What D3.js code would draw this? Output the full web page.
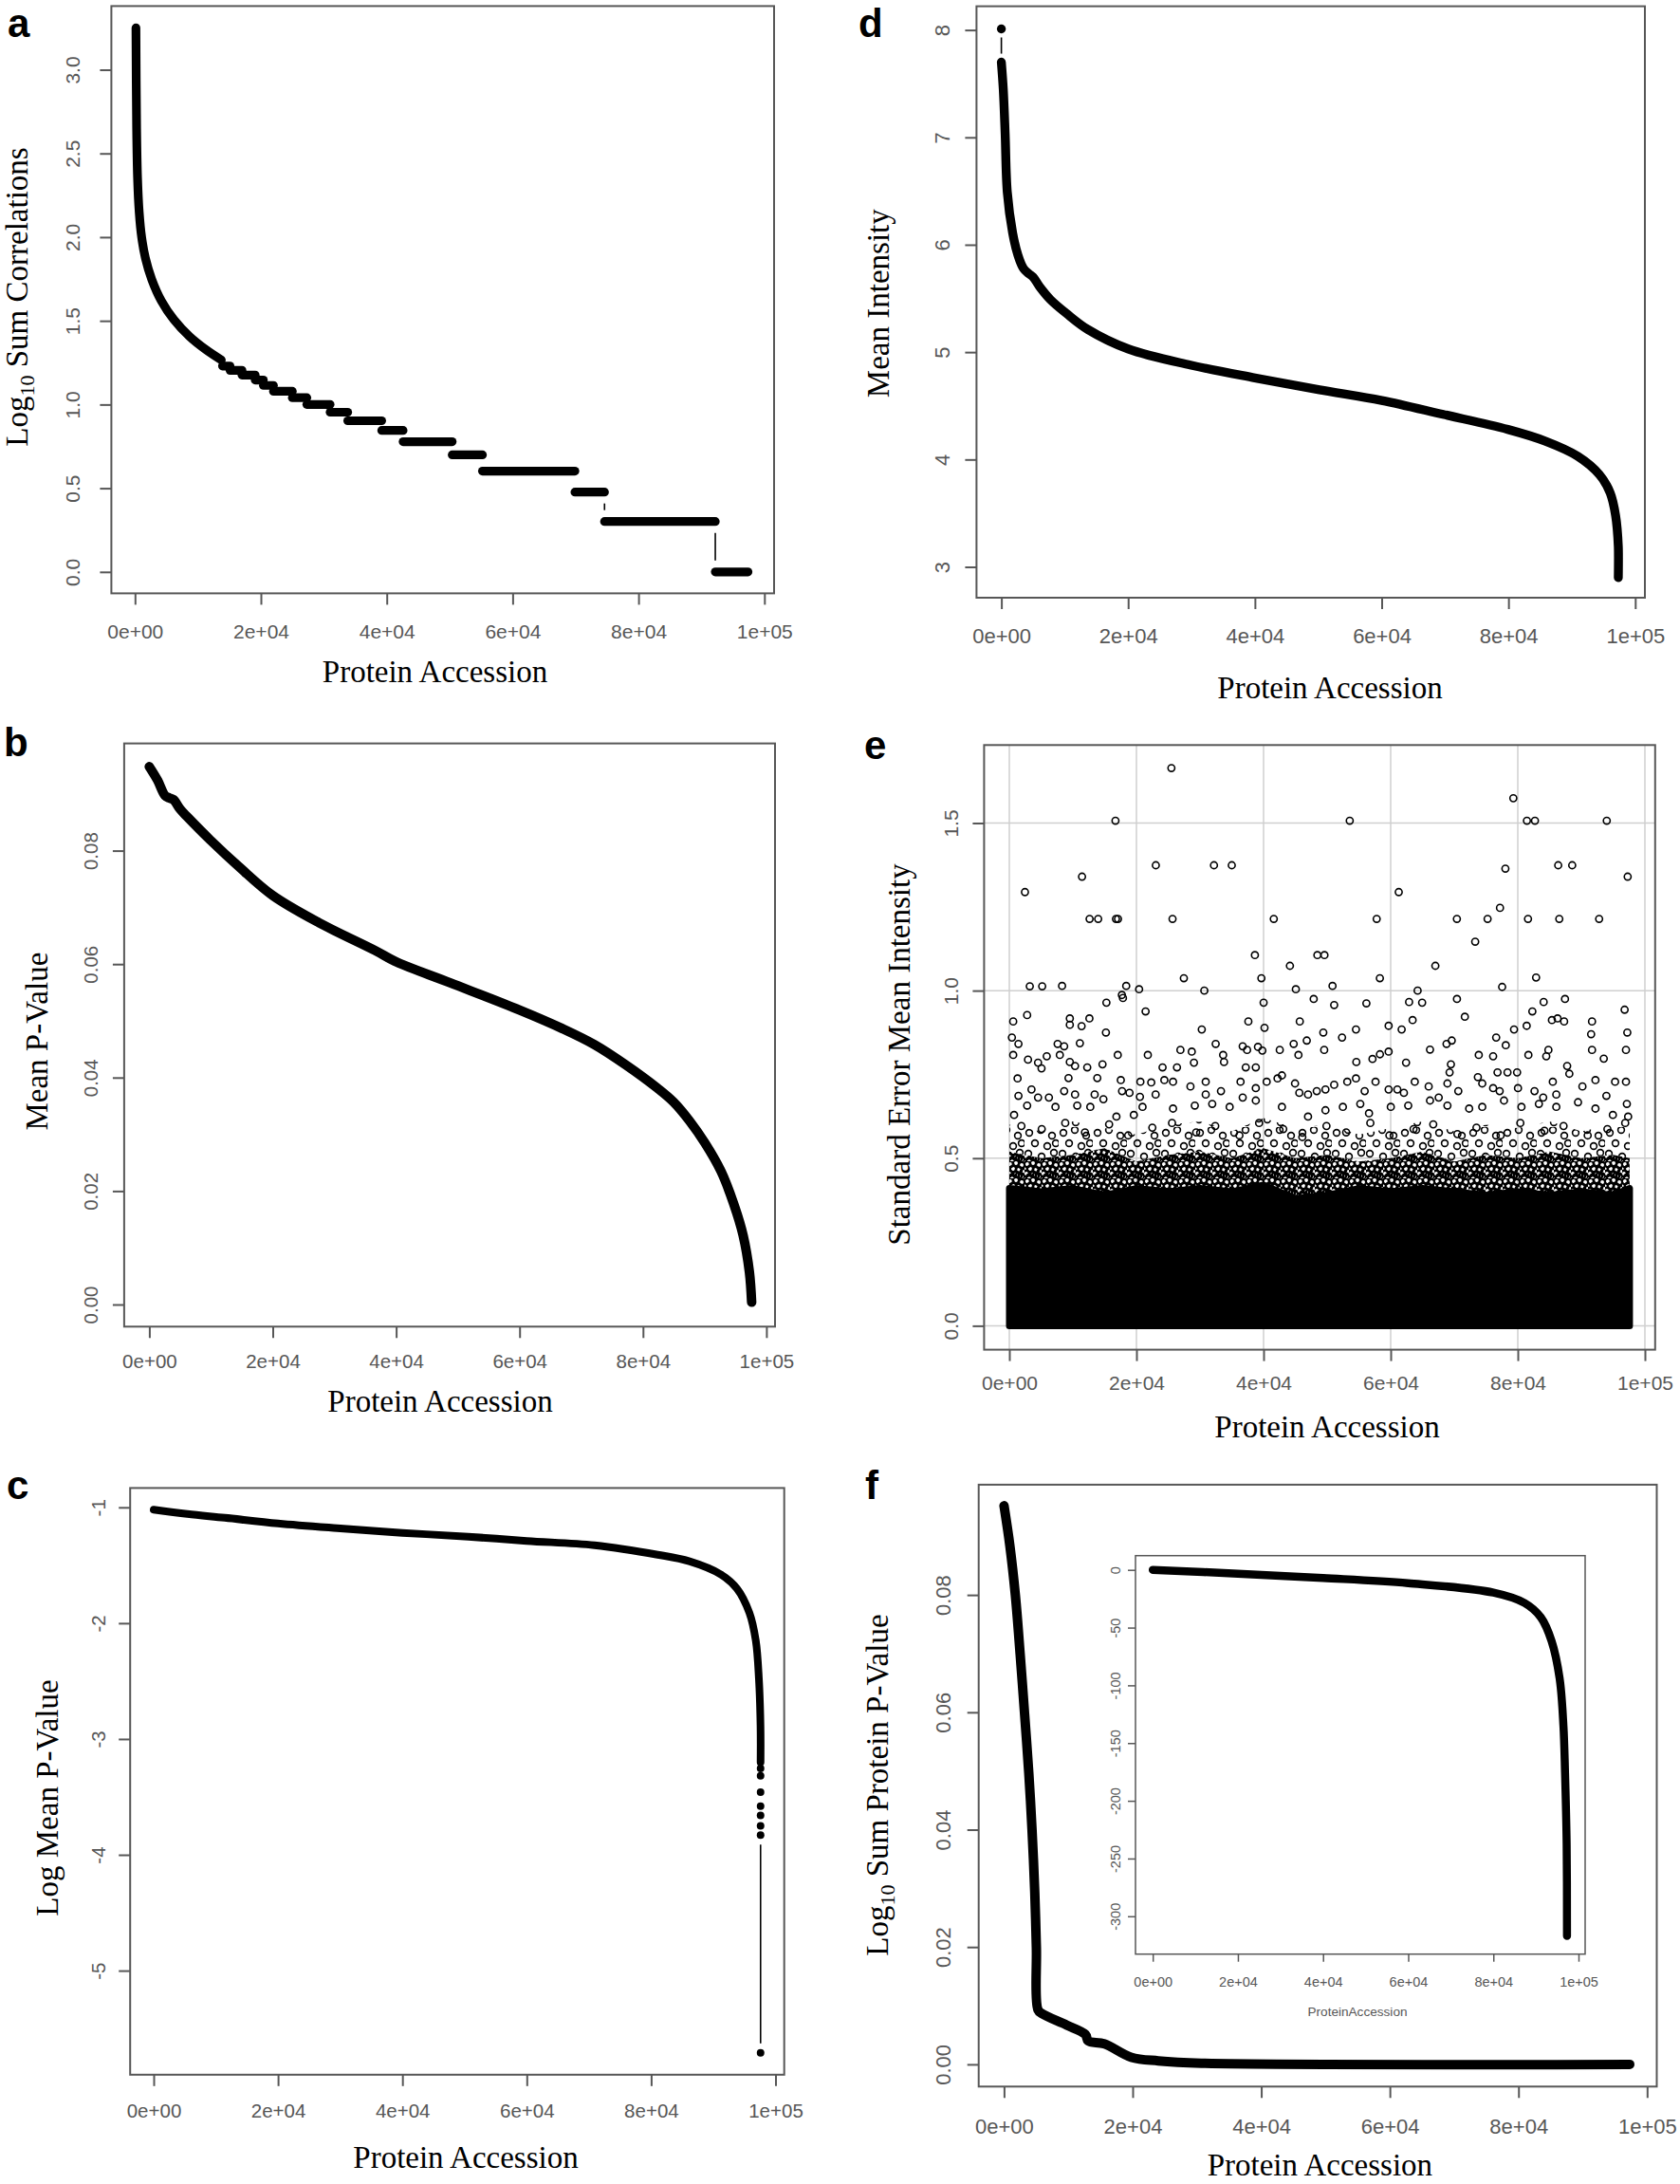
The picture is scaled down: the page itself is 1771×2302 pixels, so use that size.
<!DOCTYPE html>
<html><head><meta charset="utf-8">
<script src="https://cdn.jsdelivr.net/npm/d3@7"></script>
<style>body{margin:0;background:#fff}svg{display:block}</style>
</head><body>
<svg id="fig" width="1771" height="2302"></svg>
<script>
// ---------------- DATA ----------------
const xTickValues = [0, 20000, 40000, 60000, 80000, 100000];
const xTickLabels = ["0e+00", "2e+04", "4e+04", "6e+04", "8e+04", "1e+05"];

// a: Log10 Sum Correlations
const aTicks = [0, 0.5, 1.0, 1.5, 2.0, 2.5, 3.0];
const aTickLabels = ["0.0", "0.5", "1.0", "1.5", "2.0", "2.5", "3.0"];
const aCurveX = [150, 256, 407, 663, 1055, 1658, 2667, 4175, 6180, 8700, 11210, 13715];
const aCurveY = [3.25, 2.66, 2.354, 2.152, 2.0, 1.874, 1.747, 1.62, 1.507, 1.405, 1.329, 1.266];
const aStepY = [1.230, 1.204, 1.176, 1.146, 1.114, 1.079, 1.041, 1.000, 0.954, 0.903, 0.845, 0.778, 0.699, 0.602, 0.477, 0.301, 0.000];
const aStepStart = [13900, 15100, 17000, 19100, 20400, 22000, 25000, 27300, 31000, 33800, 39200, 42600, 50400, 55200, 69900, 74600, 92200];
const aStepEnd = [15100, 17000, 19100, 20400, 22000, 25000, 27300, 31000, 33800, 39200, 42600, 50400, 55200, 69900, 74600, 92200, 97400];

// b: Mean P-Value
const bTicks = [0, 0.02, 0.04, 0.06, 0.08];
const bTickLabels = ["0.00", "0.02", "0.04", "0.06", "0.08"];
const bX = [0, 1340, 2550, 3200, 3900, 5000, 6200, 9850, 14700, 20000, 27500, 36600, 40000, 48750, 60000, 67000, 72150, 77260, 82380, 84950, 87520, 90080, 92640, 94690, 96230, 97250, 97610];
const bY = [0.0948, 0.0924, 0.0897, 0.0893, 0.0890, 0.0873, 0.0859, 0.0819, 0.077, 0.0721, 0.0673, 0.0624, 0.0604, 0.0567, 0.0519, 0.0486, 0.0458, 0.0422, 0.0381, 0.0357, 0.0324, 0.0284, 0.0235, 0.0178, 0.0122, 0.0057, 0.0004];

// c: Log Mean P-Value
const cTicks = [-1, -2, -3, -4, -5];
const cTickLabels = ["-1", "-2", "-3", "-4", "-5"];
const cX = [0, 5420, 11450, 20000, 29500, 40000, 50600, 60000, 70900, 81050, 86150, 91230, 93780, 95800, 96830, 97330, 97590, 97600];
const cY = [-1.02, -1.057, -1.09, -1.139, -1.18, -1.22, -1.253, -1.29, -1.327, -1.409, -1.466, -1.58, -1.70, -1.91, -2.15, -2.48, -2.89, -3.2];
const cTailX = [97600, 97600, 97600, 97600, 97600, 97600, 97600];
const cTailY = [-3.255, -3.317, -3.46, -3.58, -3.66, -3.75, -3.83];
const cLastX = [97600];
const cLastY = [-5.71];

// d: Mean Intensity
const dTicks = [3, 4, 5, 6, 7, 8];
const dTickLabels = ["3", "4", "5", "6", "7", "8"];
const dFirstX = [0];
const dFirstY = [8.01];
const dX = [0, 300, 600, 935, 1780, 2630, 3480, 4330, 5000, 6030, 7730, 10280, 13670, 20000, 29800, 40000, 50190, 60000, 69700, 79900, 85860, 90950, 94350, 96050, 96900, 97330, 97330];
const dY = [7.70, 7.45, 7.03, 6.49, 6.11, 5.90, 5.78, 5.73, 5.70, 5.61, 5.49, 5.36, 5.21, 5.03, 4.88, 4.76, 4.65, 4.55, 4.42, 4.28, 4.17, 4.03, 3.86, 3.69, 3.48, 3.19, 2.90];

// e: Standard Error Mean Intensity
const eTicks = [0, 0.5, 1.0, 1.5];
const eTickLabels = ["0.0", "0.5", "1.0", "1.5"];
const eBandX = [0, 5000, 10000, 15000, 20000, 25000, 30000, 35000, 40000, 45000, 50000, 55000, 60000, 65000, 70000, 75000, 80000, 85000, 90000, 95000, 97600];
const eSolidTop = [0.41, 0.40, 0.41, 0.39, 0.41, 0.40, 0.41, 0.40, 0.42, 0.38, 0.39, 0.41, 0.40, 0.41, 0.40, 0.39, 0.40, 0.39, 0.40, 0.39, 0.41];
const eSpeckTop = [0.52, 0.50, 0.51, 0.53, 0.49, 0.51, 0.52, 0.50, 0.53, 0.50, 0.51, 0.49, 0.50, 0.52, 0.49, 0.51, 0.50, 0.52, 0.50, 0.51, 0.50];
const eSparseTop = [0.60, 0.58, 0.61, 0.59, 0.57, 0.60, 0.61, 0.58, 0.62, 0.59, 0.60, 0.57, 0.59, 0.61, 0.58, 0.60, 0.59, 0.61, 0.58, 0.60, 0.59];
const eOutX = [
  25500,79300,16700,53560,81440,82700,94000,23050,32200,35000,78050,86360,88560,97290,11440,2460,61270,77200,12630,13980,16780,17100,25680,41610,57800,70420,75250,81610,86530,92800,73300,38640,48470,49580,44150,67030,27460,39660,58300,82880,3220,5170,8300,18390,20420,30680,45080,50850,64240,77540,17710,
  612,2805,9520,9520,11370,12600,15275,15200,17880,21440,30280,37610,40150,40010,45700,47890,49400,51110,54540,56180,59680,61730,62900,63450,64950,70430,71670,79410,81400,82290,84070,85370,86260,87290,87430,91680,91540,96810,97230,
  406,1434,612,2942,4518,5066,5888,7601,7944,8630,9520,10340,11100,12260,14660,17060,21790,24110,26380,26920,28705,29050,32470,33640,33780,36720,37410,39120,39810,37200,38780,42550,44740,45490,46800,49540,52350,54600,57140,58310,59680,62420,66190,68790,69610,73860,76120,76600,78110,81670,84480,84820,87770,91680,93530,97020,79890,78380,76810,69480,
  1297,3490,1434,4518,6231,9314,8630,10340,13840,13425,14800,17540,17740,18910,20620,20550,22330,23020,24390,25760,28500,30900,30900,33300,36380,36720,38780,40490,42200,42890,44950,45630,47000,48370,49740,51110,53170,54540,55910,57620,59680,61050,62080,63790,65980,67560,69270,68930,70640,73720,74410,76120,77150,77830,80030,82630,84000,85510,86060,88110,90170,92220,93940,95310,97020,97160,97360,
  749,2805,7258,10685,12740,16850,19590,20960,25760,29185,31925,34665,38780,42890,47000,49740,52480,55220,56590,60020,62760,66190,68930,72350,74410,80580,83320,86060,89480,92220,94960,
  1900,5100,8800,11900,15700,18700,22500,25600,29400,32400,36200,39300,43100,46100,49900,53000,56800,59800,63600,66700,70500,73500,77300,80400,84200,87200,91000,94100,96900
];
const eOutY = [
  1.664,1.574,1.507,1.507,1.507,1.507,1.507,1.374,1.374,1.374,1.364,1.374,1.374,1.34,1.34,1.294,1.294,1.247,1.214,1.214,1.214,1.214,1.214,1.214,1.214,1.214,1.214,1.214,1.214,1.214,1.146,1.106,1.106,1.106,1.074,1.074,1.037,1.037,1.037,1.039,1.013,1.013,1.014,1.014,1.004,1.0,1.004,1.014,1.0,1.011,0.987,
  0.908,0.927,0.917,0.898,0.894,0.917,0.964,0.875,0.978,0.938,0.884,0.908,0.889,0.964,0.908,0.975,0.875,0.957,0.884,0.962,0.895,0.884,0.966,0.912,0.964,0.975,0.922,0.884,0.895,0.938,0.966,0.912,0.917,0.908,0.975,0.908,0.870,0.943,0.875,
  0.860,0.841,0.808,0.794,0.785,0.768,0.804,0.841,0.808,0.834,0.787,0.775,0.843,0.771,0.780,0.808,0.808,0.771,0.771,0.823,0.818,0.785,0.841,0.808,0.787,0.834,0.823,0.832,0.821,0.771,0.771,0.823,0.841,0.808,0.851,0.823,0.860,0.787,0.796,0.810,0.818,0.785,0.824,0.841,0.851,0.808,0.804,0.860,0.837,0.808,0.804,0.823,0.775,0.823,0.797,0.823,0.756,0.756,0.756,0.780,
  0.738,0.705,0.686,0.681,0.681,0.739,0.700,0.690,0.739,0.690,0.676,0.733,0.700,0.695,0.728,0.683,0.726,0.690,0.733,0.728,0.714,0.728,0.690,0.700,0.728,0.681,0.709,0.728,0.738,0.747,0.723,0.695,0.690,0.700,0.705,0.719,0.728,0.738,0.700,0.728,0.705,0.705,0.695,0.728,0.714,0.681,0.756,0.723,0.700,0.742,0.723,0.709,0.700,0.672,0.709,0.700,0.681,0.728,0.690,0.752,0.714,0.733,0.686,0.728,0.728,0.662,0.624,
  0.629,0.657,0.653,0.657,0.653,0.624,0.629,0.653,0.648,0.657,0.662,0.653,0.672,0.653,0.624,0.643,0.653,0.662,0.634,0.653,0.657,0.672,0.657,0.648,0.653,0.653,0.662,0.653,0.667,0.648,0.629,
  0.596,0.587,0.605,0.577,0.601,0.568,0.591,0.605,0.577,0.596,0.568,0.605,0.587,0.563,0.596,0.577,0.605,0.568,0.587,0.601,0.572,0.591,0.568,0.605,0.582,0.596,0.568,0.587,0.605
];

// f: Log10 Sum Protein P-Value (+ inset)
const fTicks = [0, 0.02, 0.04, 0.06, 0.08];
const fTickLabels = ["0.00", "0.02", "0.04", "0.06", "0.08"];
const fX = [0, 922, 1761, 2516, 3187, 3857, 4360, 4780, 5031, 5283, 5954, 9727, 12662, 13082, 15598, 19790, 23983, 30692, 97300];
const fY = [0.0952, 0.0883, 0.08, 0.0698, 0.0599, 0.0496, 0.0399, 0.0294, 0.0199, 0.0093, 0.0086, 0.0067, 0.0051, 0.0040, 0.0035, 0.0012, 0.0006, 0.0002, 0];
const fInTicks = [0, -50, -100, -150, -200, -250, -300];
const fInTickLabels = ["0", "-50", "-100", "-150", "-200", "-250", "-300"];
const fInX = [0, 20000, 40000, 60000, 80000, 87340, 91140, 93670, 95570, 96460, 96840, 97220, 97300];
const fInY = [0, -3.3, -7, -11.5, -19.7, -28.7, -41, -61.5, -94, -135, -176, -238, -317];

// ---------------- LAYOUT ----------------
const L = {
  a: {box:{l:117.4,r:816,t:6.4,b:625.4}, xr:[142.3,805.8], yd:[0,3], yr:[602.8,73.5], xlab:40.3, ylab:41, fs:21},
  b: {box:{l:130.9,r:817,t:783.6,b:1398.3}, xr:[157.4,807.9], yd:[0,0.08], yr:[1375,896.6], xlab:36.3, ylab:35, fs:20.5},
  c: {box:{l:137.2,r:826.7,t:1568.4,b:2186.8}, xr:[162,817.5], yd:[-1,-5], yr:[1588.8,2077.1], xlab:37.9, ylab:34, fs:20.5},
  d: {box:{l:1029.4,r:1734,t:6.6,b:630}, xr:[1055.6,1723.8], yd:[8,3], yr:[31.6,597.5], xlab:40.1, ylab:36, fs:22},
  e: {box:{l:1037.4,r:1744.8,t:785.3,b:1422.6}, xr:[1064,1734], yd:[0,1.5], yr:[1397.4,867.5], xlab:35.3, ylab:35.4, fs:21},
  f: {box:{l:1031.7,r:1746.5,t:1564.9,b:2199.3}, xr:[1058.4,1736.3], yd:[0,0.08], yr:[2175.9,1681.1], xlab:41.4, ylab:38, fs:22},
  fi: {box:{l:1197,r:1671,t:1639.7,b:2059.7}, xr:[1215.2,1664], yd:[0,-300], yr:[1654.7,2019.8], xlab:28.9, ylab:21.5, fs:14.5}
};

const svg = d3.select("#fig");
const SANS = "'Liberation Sans', Arial, Helvetica, sans-serif";
const SERIF = "'Liberation Serif', 'Times New Roman', Times, serif";
const AXC = "#575757";

const defs = svg.append("defs");
function makePattern(id, size, pts, r, sw) {
  const p = defs.append("pattern").attr("id", id).attr("patternUnits", "userSpaceOnUse")
    .attr("width", size).attr("height", size);
  pts.forEach(q => p.append("circle").attr("cx", q[0]).attr("cy", q[1]).attr("r", r)
    .attr("fill", "none").attr("stroke", "#000").attr("stroke-width", sw));
}
makePattern("speck", 18, [[3,3],[9,2],[15,4],[6,8],[12,9],[17,11],[2,13],[9,14],[15,16],[5,17],[12,15]], 3.2, 2.4);
makePattern("speck2", 36, [[5,6],[17,3],[29,9],[11,17],[24,20],[4,28],[18,31],[31,27],[33,17]], 3.4, 1.6);

function scales(k) {
  return {
    x: d3.scaleLinear().domain([0, 100000]).range(L[k].xr),
    y: d3.scaleLinear().domain(L[k].yd).range(L[k].yr)
  };
}

function thick(s, xs, ys, w, curve) {
  const pts = xs.map((v, i) => [v, ys[i]]);
  svg.append("path")
    .attr("d", d3.line().x(d => s.x(d[0])).y(d => s.y(d[1])).curve(curve || d3.curveCatmullRom.alpha(0.5))(pts))
    .attr("fill", "none").attr("stroke", "#000").attr("stroke-width", w)
    .attr("stroke-linecap", "round").attr("stroke-linejoin", "round");
}
function dots(s, xs, ys, r) {
  svg.append("g").selectAll("circle").data(xs.map((v, i) => [v, ys[i]])).join("circle")
    .attr("cx", d => s.x(d[0])).attr("cy", d => s.y(d[1])).attr("r", r).attr("fill", "#000");
}
function connector(s, x0, y0, x1, y1, gap) {
  const px0 = s.x(x0), py0 = s.y(y0), px1 = s.x(x1), py1 = s.y(y1);
  const len = Math.hypot(px1 - px0, py1 - py0);
  if (len <= 2 * gap + 1) return;
  const ux = (px1 - px0) / len, uy = (py1 - py0) / len;
  svg.append("line")
    .attr("x1", px0 + ux * gap).attr("y1", py0 + uy * gap)
    .attr("x2", px1 - ux * gap).attr("y2", py1 - uy * gap)
    .attr("stroke", "#000").attr("stroke-width", 1.6);
}

function frame(k, s, yTicks, yLabels, opt) {
  opt = opt || {};
  const P = L[k];
  const tl = opt.tl || 12, sw = opt.sw || 2, fs = P.fs;
  const g = svg.append("g");
  const gx = g.append("g").attr("transform", `translate(0,${P.box.b})`)
    .call(d3.axisBottom(s.x).tickValues(xTickValues).tickFormat((d, i) => xTickLabels[i]).tickSize(tl));
  gx.select(".domain").remove();
  gx.selectAll(".tick line").attr("stroke", AXC).attr("stroke-width", sw);
  gx.selectAll(".tick text").attr("y", P.xlab).attr("dy", "0.36em").attr("fill", AXC)
    .style("font-family", SANS).style("font-size", fs + "px");
  const gy = g.append("g").attr("transform", `translate(${P.box.l},0)`)
    .call(d3.axisLeft(s.y).tickValues(yTicks).tickFormat((d, i) => yLabels[i]).tickSize(tl));
  gy.select(".domain").remove();
  gy.selectAll(".tick line").attr("stroke", AXC).attr("stroke-width", sw);
  gy.selectAll(".tick text").attr("x", null).attr("dy", null)
    .attr("transform", `translate(${-P.ylab + 0.36 * fs},0) rotate(-90)`)
    .attr("text-anchor", "middle").attr("fill", AXC)
    .style("font-family", SANS).style("font-size", fs + "px");
  g.append("rect").attr("x", P.box.l).attr("y", P.box.t)
    .attr("width", P.box.r - P.box.l).attr("height", P.box.b - P.box.t)
    .attr("fill", "none").attr("stroke", AXC).attr("stroke-width", sw);
}

function hTitle(x, y, txt, fs, fam, col) {
  svg.append("text").attr("x", x).attr("y", y).attr("text-anchor", "middle")
    .style("font-family", fam || SERIF).style("font-size", (fs || 33) + "px")
    .attr("fill", col || "#000").text(txt);
}
function vTitle(xb, yc, parts) {
  const t = svg.append("text").attr("transform", `translate(${xb},${yc}) rotate(-90)`)
    .attr("text-anchor", "middle").style("font-family", SERIF).style("font-size", "33px").attr("fill", "#000");
  parts.forEach(p => {
    const ts = t.append("tspan").text(p.t);
    if (p.sub) ts.style("font-size", "22px").attr("dy", "0.3em");
    if (p.after) ts.attr("dy", "-0.2em");
  });
}
function letter(x, y, ch) {
  svg.append("text").attr("x", x).attr("y", y).style("font-family", SANS)
    .style("font-weight", "bold").style("font-size", "42px").attr("fill", "#000").text(ch);
}

// ---------------- PANEL a ----------------
{
  const s = scales("a");
  thick(s, aCurveX, aCurveY, 9.2);
  aStepY.forEach((v, i) => thick(s, [aStepStart[i], aStepEnd[i]], [v, v], 9.2, d3.curveLinear));
  for (let i = 0; i < aStepY.length - 1; i++)
    connector(s, aStepEnd[i], aStepY[i], aStepStart[i + 1], aStepY[i + 1], 12);
  frame("a", s, aTicks, aTickLabels);
  hTitle(458.5, 718.5, "Protein Accession");
  vTitle(29, 313, [{t: "Log"}, {t: "10", sub: true}, {t: " Sum Correlations", after: true}]);
  letter(8, 39, "a");
}
// ---------------- PANEL b ----------------
{
  const s = scales("b");
  thick(s, bX, bY, 10);
  frame("b", s, bTicks, bTickLabels);
  hTitle(464, 1488, "Protein Accession");
  vTitle(49.5, 1097.6, [{t: "Mean P-Value"}]);
  letter(4, 796.7, "b");
}
// ---------------- PANEL c ----------------
{
  const s = scales("c");
  thick(s, cX, cY, 8);
  dots(s, cTailX, cTailY, 4);
  connector(s, cTailX[cTailX.length - 1], cTailY[cTailY.length - 1], cLastX[0], cLastY[0], 10);
  dots(s, cLastX, cLastY, 4);
  frame("c", s, cTicks, cTickLabels);
  hTitle(491, 2285, "Protein Accession");
  vTitle(61, 1895, [{t: "Log Mean P-Value"}]);
  letter(7, 1580, "c");
}
// ---------------- PANEL d ----------------
{
  const s = scales("d");
  dots(s, dFirstX, dFirstY, 4.7);
  connector(s, dFirstX[0], dFirstY[0], dX[0], dY[0], 9);
  thick(s, dX, dY, 9.4);
  frame("d", s, dTicks, dTickLabels);
  hTitle(1402, 736, "Protein Accession");
  vTitle(937, 319.7, [{t: "Mean Intensity"}]);
  letter(905, 39, "d");
}
// ---------------- PANEL e ----------------
{
  const s = scales("e");
  const P = L.e;
  const grid = svg.append("g").attr("stroke", "#cfcfcf").attr("stroke-width", 1.5);
  xTickValues.forEach(v => grid.append("line").attr("x1", s.x(v)).attr("x2", s.x(v)).attr("y1", P.box.t).attr("y2", P.box.b));
  eTicks.forEach(v => grid.append("line").attr("y1", s.y(v)).attr("y2", s.y(v)).attr("x1", P.box.l).attr("x2", P.box.r));
  const band = eBandX.map((v, i) => ({x: v, lo: eSolidTop[i], mid: eSpeckTop[i], hi: eSparseTop[i]}));
  svg.append("path")
    .attr("d", d3.area().x(d => s.x(d.x)).y0(d => s.y(d.mid)).y1(d => s.y(d.hi))(band))
    .attr("fill", "url(#speck2)");
  svg.append("path")
    .attr("d", d3.area().x(d => s.x(d.x)).y0(d => s.y(d.lo)).y1(d => s.y(d.mid))(band))
    .attr("fill", "url(#speck)");
  svg.append("path")
    .attr("d", d3.area().x(d => s.x(d.x)).y0(s.y(0)).y1(d => s.y(d.lo))(band))
    .attr("fill", "#000").attr("stroke", "#000").attr("stroke-width", 7).attr("stroke-linejoin", "round");
  svg.append("g").selectAll("circle").data(eOutX.map((v, i) => [v, eOutY[i]])).join("circle")
    .attr("cx", d => s.x(d[0])).attr("cy", d => s.y(d[1])).attr("r", 3.6)
    .attr("fill", "none").attr("stroke", "#000").attr("stroke-width", 1.6);
  frame("e", s, eTicks, eTickLabels);
  hTitle(1399, 1515, "Protein Accession");
  vTitle(959, 1111.5, [{t: "Standard Error Mean Intensity"}]);
  letter(911, 800, "e");
}
// ---------------- PANEL f ----------------
{
  const s = scales("f");
  thick(s, fX, fY, 10);
  frame("f", s, fTicks, fTickLabels);
  hTitle(1391.4, 2293, "Protein Accession");
  vTitle(936, 1881.6, [{t: "Log"}, {t: "10", sub: true}, {t: " Sum Protein P-Value", after: true}]);
  letter(912, 1580, "f");
  // inset
  const si = scales("fi");
  const B = L.fi.box;
  svg.append("rect").attr("x", B.l).attr("y", B.t).attr("width", B.r - B.l).attr("height", B.b - B.t).attr("fill", "#fff");
  thick(si, fInX, fInY, 8.5);
  frame("fi", si, fInTicks, fInTickLabels, {tl: 8, sw: 1.5});
  hTitle(1431, 2125, "ProteinAccession", 13.6, SANS, AXC);
}
</script>
</body></html>
